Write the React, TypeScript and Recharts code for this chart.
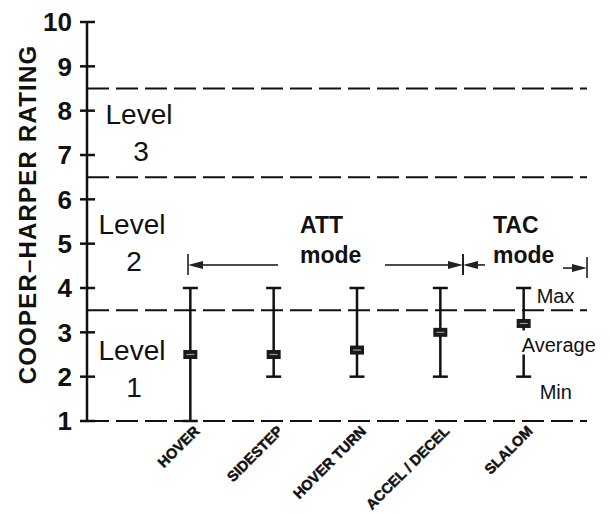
import React from 'react';
import { ComposedChart, XAxis, YAxis, Scatter, ErrorBar, ReferenceLine, ReferenceDot } from 'recharts';

const categories = ['HOVER', 'SIDESTEP', 'HOVER TURN', 'ACCEL / DECEL', 'SLALOM'];
const categoryPositions = [1, 2, 3, 4, 5];
const minRating = [1, 2, 2, 2, 2];
const maxRating = [4, 4, 4, 4, 4];
const avgRating = [2.5, 2.5, 2.6, 3.0, 3.2];
const yTicks = [1, 2, 3, 4, 5, 6, 7, 8, 9, 10];
const levelBoundaries = [1, 3.5, 6.5, 8.5];
const levelNames = ['1', '2', '3'];
const levelAnchorX = [0.3, 0.3, 0.384];
const levelAnchorY = [1.97, 4.81, 7.3];

const modeNames = ['ATT', 'TAC'];
const modeTextX = [2.316, 4.632];
const modeTextY = 5.24;
const arrowSegments = [
  { from: 2.052, to: 0.972, y: 4.52 },
  { from: 3.336, to: 4.272, y: 4.52 },
  { from: 4.536, to: 4.272, y: 4.52 },
  { from: 5.472, to: 5.76, y: 4.45 },
];

const FONT = '"Liberation Sans", Arial, Helvetica, sans-serif';
const INK = '#111';

const data = categories.map((name, i) => ({
  name,
  x: categoryPositions[i],
  y: avgRating[i],
  err: [avgRating[i] - minRating[i], maxRating[i] - avgRating[i]],
}));

const YTick = (props: any) => {
  const { x, y, payload } = props;
  return (
    <g>
      <line x1={x - 7} x2={x + 8} y1={y} y2={y} stroke={INK} strokeWidth={2.5} />
      <text x={x - 15} y={y} dy="0.36em" textAnchor="end" fontSize={26} fontWeight="bold" fill={INK} fontFamily={FONT}>
        {payload.value}
      </text>
    </g>
  );
};

const XTick = (props: any) => {
  const { x, y, payload } = props;
  const label = categories[categoryPositions.indexOf(payload.value)];
  return (
    <text
      transform={`translate(${x + 10},${y}) rotate(-45)`}
      textAnchor="end"
      fontSize={14.5}
      fontWeight="bold"
      fill={INK}
      stroke={INK}
      strokeWidth={0.5}
      fontFamily={FONT}
    >
      {label}
    </text>
  );
};

const YTitle = (props: any) => {
  const vb = props.viewBox || { x: 0, y: 22, width: 87, height: 399 };
  const cx = vb.x + 27;
  const cy = vb.y + vb.height / 2 - 7;
  return (
    <text
      x={cx}
      y={cy}
      transform={`rotate(-90 ${cx} ${cy})`}
      textAnchor="middle"
      dominantBaseline="central"
      fontSize={24}
      letterSpacing={1.2}
      fontWeight="bold"
      fill={INK}
      fontFamily={FONT}
    >
      COOPER–HARPER RATING
    </text>
  );
};

const AvgMarker = (props: any) => {
  const { cx, cy } = props;
  return (
    <g>
      <rect x={cx - 7} y={cy - 4.5} width={14} height={9} fill="#1a1a1a" />
      <line x1={cx - 4} x2={cx + 4} y1={cy} y2={cy} stroke="#999" strokeWidth={1.2} />
    </g>
  );
};

const ArrowShape = (props: any) => {
  const { x1, y1, x2, y2 } = props;
  const dir = x2 > x1 ? 1 : -1;
  const tipX = x2;
  const baseX = x2 - dir * 15;
  return (
    <g>
      <line x1={x1} y1={y1} x2={baseX} y2={y2} stroke={INK} strokeWidth={1.5} />
      <polygon points={`${tipX},${y2} ${baseX},${y2 - 4} ${baseX},${y2 + 4}`} fill="#222" />
      <line x1={tipX} x2={tipX} y1={y2 - 11} y2={y2 + 10} stroke={INK} strokeWidth={1.5} />
    </g>
  );
};

export default function App() {
  return (
    <div style={{ width: 610, height: 514, background: '#fff' }}>
      <style>{'body{margin:0;background:#fff}'}</style>
      <ComposedChart width={610} height={514} data={data} margin={{ top: 22, right: 23, bottom: 0, left: 0 }}>
        <XAxis
          dataKey="x"
          type="number"
          domain={[-0.24, 5.76]}
          ticks={categoryPositions}
          allowDataOverflow
          axisLine={false}
          tickLine={false}
          tickSize={0}
          tickMargin={11}
          height={93}
          tick={<XTick />}
          interval={0}
        />
        <YAxis
          dataKey="y"
          type="number"
          domain={[1, 10]}
          ticks={yTicks}
          allowDataOverflow
          width={87}
          axisLine={{ stroke: INK, strokeWidth: 2.5 }}
          tickLine={false}
          tickSize={0}
          tickMargin={0}
          tick={<YTick />}
          interval={0}
          label={<YTitle />}
        />
        {levelBoundaries.map((v) => (
          <ReferenceLine key={v} y={v} stroke={INK} strokeWidth={2} strokeDasharray="22 7" ifOverflow="visible" />
        ))}
        {levelNames.map((n, i) => (
          <ReferenceDot
            key={'lv' + n}
            x={levelAnchorX[i]}
            y={levelAnchorY[i]}
            r={0}
            ifOverflow="visible"
            shape={(p: any) => (
              <g fontFamily={FONT} fill={INK} fontSize={28}>
                <text x={p.cx} y={p.cy - 18} textAnchor="middle">Level</text>
                <text x={p.cx + 2} y={p.cy + 19} textAnchor="middle">{n}</text>
              </g>
            )}
          />
        ))}
        {arrowSegments.map((s, i) => (
          <ReferenceLine
            key={'ar' + i}
            segment={[{ x: s.from, y: s.y }, { x: s.to, y: s.y }]}
            ifOverflow="visible"
            stroke={INK}
            shape={(p: any) => <ArrowShape {...p} />}
          />
        ))}
        {modeNames.map((m, i) => (
          <ReferenceDot
            key={'md' + m}
            x={modeTextX[i]}
            y={modeTextY}
            r={0}
            ifOverflow="visible"
            shape={(p: any) => (
              <g fontFamily={FONT} fill={INK} fontSize={23} fontWeight="bold">
                <text x={p.cx} y={p.cy}>{m}</text>
                <text x={p.cx} y={p.cy + 30}>mode</text>
              </g>
            )}
          />
        ))}
        <Scatter dataKey="y" isAnimationActive={false} shape={<AvgMarker />}>
          <ErrorBar dataKey="err" direction="y" width={7.5} stroke={INK} strokeWidth={2.5} isAnimationActive={false} />
        </Scatter>
        <ReferenceDot
          x={categoryPositions[4]}
          y={maxRating[4]}
          r={0}
          ifOverflow="visible"
          shape={(p: any) => (
            <text x={p.cx + 13} y={p.cy + 15} fontSize={20} fill={INK} fontFamily={FONT}>Max</text>
          )}
        />
        <ReferenceDot
          x={categoryPositions[4]}
          y={avgRating[4]}
          r={0}
          ifOverflow="visible"
          shape={(p: any) => (
            <g>
              <rect x={p.cx - 4} y={p.cy + 7} width={82} height={24} fill="#fff" />
              <text x={p.cx - 2} y={p.cy + 29} fontSize={20} fill={INK} fontFamily={FONT}>Average</text>
            </g>
          )}
        />
        <ReferenceDot
          x={categoryPositions[4]}
          y={minRating[4]}
          r={0}
          ifOverflow="visible"
          shape={(p: any) => (
            <text x={p.cx + 16} y={p.cy + 22} fontSize={20} fill={INK} fontFamily={FONT}>Min</text>
          )}
        />
      </ComposedChart>
    </div>
  );
}
